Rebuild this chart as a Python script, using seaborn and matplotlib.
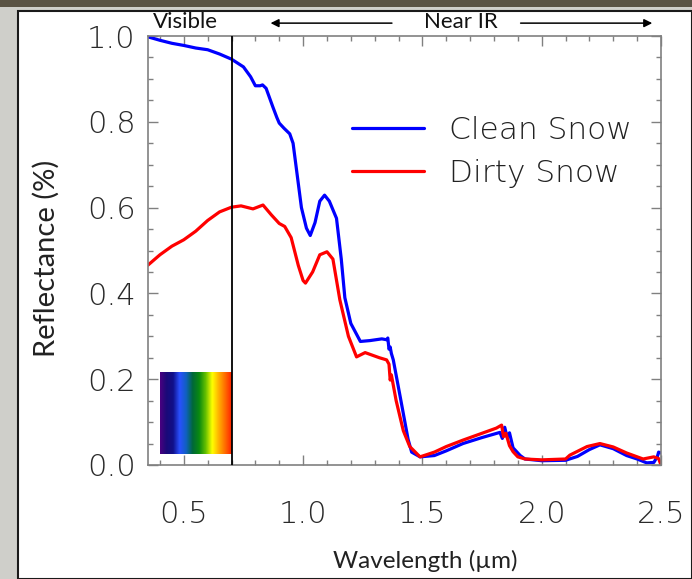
import numpy as np
import pandas as pd
import matplotlib
matplotlib.use("Agg")
import matplotlib.pyplot as plt
from matplotlib.colors import LinearSegmentedColormap
from matplotlib.patches import Rectangle
import seaborn as sns

# Spectral reflectance of clean and dirty snow
clean_wl = [0.35, 0.40, 0.45, 0.50, 0.55, 0.60, 0.65, 0.70, 0.75, 0.78, 0.80, 0.82,
            0.83, 0.845, 0.86, 0.873, 0.89, 0.90, 0.92, 0.944, 0.958, 0.972, 0.993,
            1.014, 1.03, 1.05, 1.07, 1.09, 1.11, 1.14, 1.16, 1.175, 1.20, 1.24, 1.28,
            1.33, 1.35, 1.355, 1.36, 1.365, 1.37, 1.378, 1.41, 1.44, 1.455, 1.49,
            1.55, 1.60, 1.67, 1.75, 1.825, 1.835, 1.845, 1.855, 1.865, 1.88, 1.91,
            1.93, 2.00, 2.10, 2.15, 2.20, 2.244, 2.30, 2.356, 2.40, 2.44, 2.47,
            2.485, 2.49, 2.50]
clean_refl = [0.998, 0.99, 0.983, 0.978, 0.972, 0.968, 0.958, 0.946, 0.928, 0.905,
              0.884, 0.884, 0.886, 0.878, 0.855, 0.835, 0.81, 0.797, 0.785, 0.772,
              0.75, 0.69, 0.60, 0.552, 0.535, 0.565, 0.615, 0.629, 0.615, 0.575,
              0.48, 0.39, 0.33, 0.288, 0.29, 0.294, 0.292, 0.296, 0.27, 0.275, 0.26,
              0.245, 0.15, 0.06, 0.03, 0.019, 0.022, 0.033, 0.05, 0.064, 0.076,
              0.062, 0.088, 0.065, 0.075, 0.04, 0.022, 0.014, 0.01, 0.011, 0.02,
              0.036, 0.047, 0.038, 0.022, 0.014, 0.005, 0.006, 0.02, 0.03, 0.028]

dirty_wl = [0.35, 0.40, 0.45, 0.50, 0.55, 0.60, 0.65, 0.70, 0.74, 0.79, 0.832, 0.867,
            0.90, 0.923, 0.95, 0.98, 1.00, 1.01, 1.04, 1.07, 1.10, 1.125, 1.154,
            1.19, 1.224, 1.26, 1.29, 1.32, 1.35, 1.36, 1.365, 1.37, 1.39, 1.42,
            1.447, 1.49, 1.55, 1.60, 1.67, 1.75, 1.81, 1.832, 1.84, 1.85, 1.865,
            1.88, 1.90, 1.93, 2.00, 2.10, 2.118, 2.19, 2.244, 2.30, 2.356, 2.425,
            2.47, 2.49, 2.50]
dirty_refl = [0.466, 0.49, 0.51, 0.525, 0.545, 0.57, 0.59, 0.601, 0.604, 0.597,
              0.606, 0.583, 0.563, 0.556, 0.53, 0.465, 0.43, 0.424, 0.45, 0.49,
              0.497, 0.48, 0.385, 0.30, 0.252, 0.262, 0.256, 0.25, 0.245, 0.235,
              0.198, 0.21, 0.15, 0.08, 0.043, 0.019, 0.03, 0.043, 0.058, 0.074,
              0.086, 0.093, 0.066, 0.074, 0.045, 0.031, 0.019, 0.014, 0.012, 0.014,
              0.023, 0.043, 0.05, 0.042, 0.028, 0.014, 0.019, 0.015, 0.0]

series_names = ["Clean Snow", "Dirty Snow"]
series_colors = ["#0000ff", "#ff0000"]
x_ticks = [0.5, 1.0, 1.5, 2.0, 2.5]
y_ticks = [0.0, 0.2, 0.4, 0.6, 0.8, 1.0]
visible_edge = 0.7

# Visible-light spectrum swatch colours (violet -> red)
spectrum_colors = ["#4a0080", "#1a0a78", "#10108a", "#2a50ff", "#1060c0",
                   "#006838", "#0a8a10", "#66c000", "#ffff00", "#ffb000",
                   "#ff6a00", "#ff2000"]

df = pd.concat([
    pd.DataFrame({"Wavelength": clean_wl, "Reflectance": clean_refl, "Snow": series_names[0]}),
    pd.DataFrame({"Wavelength": dirty_wl, "Reflectance": dirty_refl, "Snow": series_names[1]}),
], ignore_index=True)

sns.set_theme(style="white")
plt.rcParams["font.family"] = ["DejaVu Sans"]

fig = plt.figure(figsize=(6.92, 5.79), dpi=100)
fig.patch.set_facecolor("#cfcfca")

W, H = 692, 579
# white slide panel with dark frame and dark top band
fig.patches.append(Rectangle((18 / W, 0), 1 - 18 / W, (H - 11) / H,
                             transform=fig.transFigure, facecolor="white",
                             edgecolor="#1a1a1a", linewidth=1.5, zorder=-10))
fig.patches.append(Rectangle((0, (H - 7) / H), 1, 7 / H, transform=fig.transFigure,
                             facecolor="#5a5344", edgecolor="none", zorder=-10))

left, right, top, bottom = 148, 661, 36, 465
ax = fig.add_axes([left / W, (H - bottom) / H, (right - left) / W, (bottom - top) / H])
ax.set_facecolor("white")

sns.lineplot(data=df, x="Wavelength", y="Reflectance", hue="Snow",
             hue_order=series_names, palette=dict(zip(series_names, series_colors)),
             estimator=None, linewidth=2.3, ax=ax)

ax.set_xlim(0.35, 2.5)
ax.set_ylim(0.0, 1.0)

# visible spectrum swatch
cmap = LinearSegmentedColormap.from_list("visible", spectrum_colors)
grad = np.linspace(0, 1, 256)[None, :]
ax.imshow(grad, cmap=cmap, aspect="auto", extent=(0.4, visible_edge, 0.026, 0.216),
          zorder=1, interpolation="bilinear")

ax.axvline(visible_edge, color="black", linewidth=1.3, zorder=3)

ax.set_xticks(x_ticks)
ax.set_xticklabels([f"{v:.1f}" for v in x_ticks])
ax.set_yticks(y_ticks)
ax.set_yticklabels([f"{v:.1f}" for v in y_ticks])
ax.set_xticks(np.arange(0.4, 2.5, 0.1), minor=True)
ax.set_yticks(np.arange(0.0, 1.0, 0.05), minor=True)

for side in ["left", "right", "top", "bottom"]:
    ax.spines[side].set_color("#808080")
    ax.spines[side].set_linewidth(1.2)

ax.tick_params(which="both", direction="in", top=True, right=True, bottom=True,
               left=True, color="#808080", width=1)
ax.tick_params(which="major", length=7)
ax.tick_params(which="minor", length=3.5)
ax.tick_params(axis="x", which="major", pad=25, labelsize=22, labelcolor="#2a2a2a")
ax.tick_params(axis="y", which="major", pad=9, labelsize=22, labelcolor="#2a2a2a")
for lab in ax.get_xticklabels() + ax.get_yticklabels():
    lab.set_fontweight("light")

ax.set_xlabel("Wavelength (\u00b5m)", family=["Lato", "DejaVu Sans"], size=17.5,
              color="#222222")
ax.set_ylabel("Reflectance (%)", family=["Lato", "DejaVu Sans"], size=21,
              color="#222222")
ax.xaxis.set_label_coords((425 - left) / (right - left), (bottom - 550) / (bottom - top))
ax.yaxis.set_label_coords((60 - left) / (right - left), (bottom - 258) / (bottom - top))

# region annotations above the plot
head_font = dict(family=["Lato", "DejaVu Sans"], size=16, color="#111111")
ax.text(0.508, 1.033, "Visible", transform=ax.get_xaxis_transform(),
        ha="center", va="center", **head_font)
ax.text(1.661, 1.033, "Near IR", transform=ax.get_xaxis_transform(),
        ha="center", va="center", **head_font)
arrow = dict(arrowstyle="-|>", color="black", linewidth=1.1, mutation_scale=12)
ax.annotate("", xy=(0.852, 1.03), xytext=(1.384, 1.03),
            xycoords=ax.get_xaxis_transform(), textcoords=ax.get_xaxis_transform(),
            arrowprops=arrow, annotation_clip=False)
ax.annotate("", xy=(2.475, 1.03), xytext=(1.900, 1.03),
            xycoords=ax.get_xaxis_transform(), textcoords=ax.get_xaxis_transform(),
            arrowprops=arrow, annotation_clip=False)

leg = ax.legend(loc="upper left", bbox_to_anchor=((352 - left) / (right - left),
                                                  (bottom - 116) / (bottom - top)),
                frameon=False, fontsize=22.5, handlelength=2.3, handletextpad=0.8,
                labelspacing=0.45, borderpad=0, borderaxespad=0)
for t in leg.get_texts():
    t.set_color("#222222")
    t.set_fontweight("light")
for h in leg.get_lines():
    h.set_linewidth(2.3)

fig.savefig("out.png", dpi=100, facecolor=fig.get_facecolor())
